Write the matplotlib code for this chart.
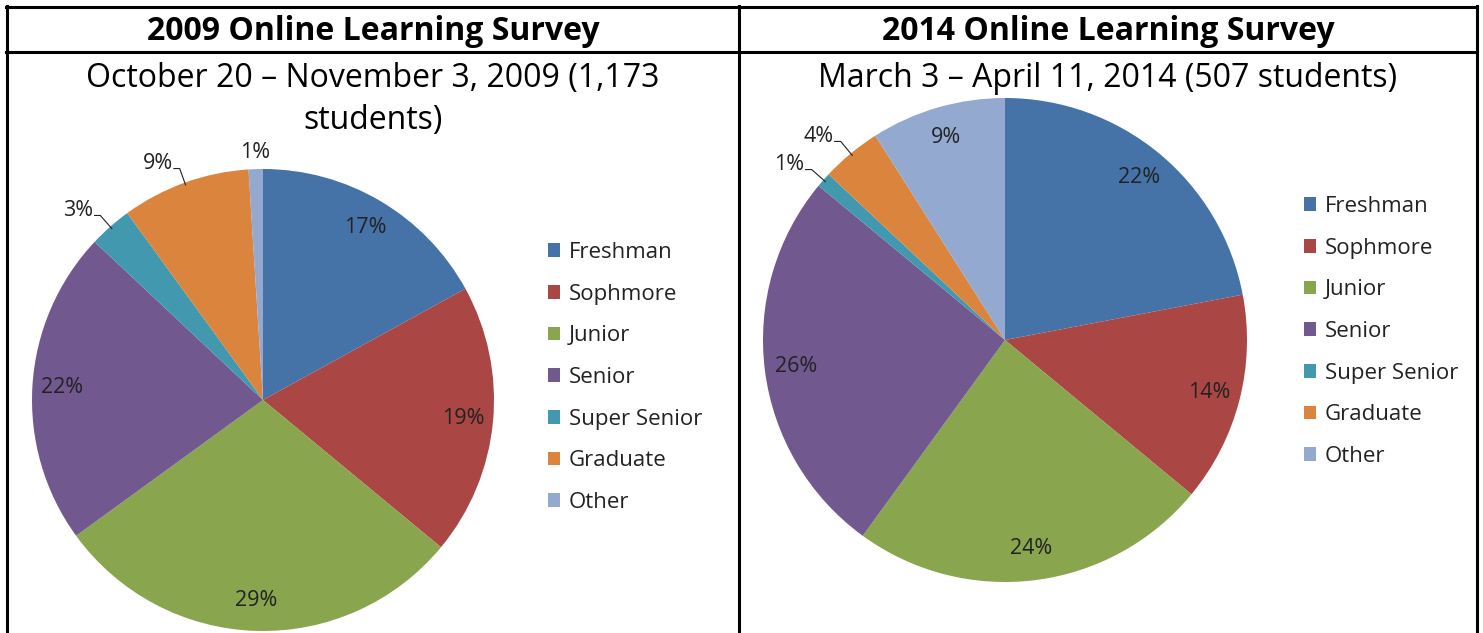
"""Two survey pie charts laid out like a two-column table."""
import matplotlib
matplotlib.use("Agg")
import matplotlib.pyplot as plt
import numpy as np
from matplotlib.lines import Line2D

# ---------------------------------------------------------------------------
# Data
# ---------------------------------------------------------------------------
categories = ["Freshman", "Sophmore", "Junior", "Senior",
              "Super Senior", "Graduate", "Other"]
share_2009 = [17, 19, 29, 22, 3, 9, 1]
share_2014 = [22, 14, 24, 26, 1, 4, 9]

# slices whose label sits outside the pie
outside_2009 = ["Super Senior", "Graduate", "Other"]
outside_2014 = ["Super Senior", "Graduate"]

titles = ["2009 Online Learning Survey", "2014 Online Learning Survey"]
subtitle_2009 = ["October 20 \u2013 November 3, 2009 (1,173", "students)"]
subtitle_2014 = ["March 3 \u2013 April 11, 2014 (507 students)"]

colors = ["#4572A7", "#AA4643", "#89A54E", "#71588F",
          "#4198AF", "#DB843D", "#93A9CF"]

W, H = 1483, 633
plt.rcParams["font.family"] = ["Open Sans", "DejaVu Sans"]
TXT = "#222222"


def fig_xy(x, y):
    """Pixel (from top-left) -> figure fraction."""
    return x / W, 1 - y / H


def hline(fig, x0, x1, y):
    fig.add_artist(Line2D([x0 / W, x1 / W], [1 - y / H] * 2,
                          transform=fig.transFigure, color="black", lw=2.2))


def vline(fig, x, y0, y1):
    fig.add_artist(Line2D([x / W] * 2, [1 - y0 / H, 1 - y1 / H],
                          transform=fig.transFigure, color="black", lw=2.2))


def draw_pie(fig, values, outside, cx, cy, r, legend_xy):
    ax = fig.add_axes([(cx - r) / W, 1 - (cy + r) / H, 2 * r / W, 2 * r / H])
    wedges, _ = ax.pie(values, colors=colors, startangle=90, counterclock=False,
                       radius=1, wedgeprops=dict(linewidth=0))
    ax.set_xlim(-1, 1)
    ax.set_ylim(-1, 1)

    for w, v, name in zip(wedges, values, categories):
        mid = np.deg2rad((w.theta1 + w.theta2) / 2)
        x, y = np.cos(mid), np.sin(mid)
        label = f"{v}%"
        if name not in outside:
            ax.text(0.87 * x, 0.87 * y, label, ha="center", va="center",
                    fontsize=15.5, color=TXT)
        elif abs(x) < 0.15:
            ax.text(1.07 * x, 1.07 * y, label, ha="center", va="center",
                    fontsize=15.5, color=TXT)
        else:
            x1, y1 = 1.065 * x, 1.065 * y
            ax.plot([0.99 * x, x1, x1 - 0.025], [0.99 * y, y1, y1],
                    color=TXT, lw=0.8, clip_on=False)
            ax.text(x1 - 0.03, y1 + 0.022, label, ha="right", va="center",
                    fontsize=15.5, color=TXT)

    lx, ly = fig_xy(*legend_xy)
    ax.legend(wedges, categories, loc="upper left", bbox_to_anchor=(lx, ly),
              bbox_transform=fig.transFigure, frameon=False, fontsize=16,
              handlelength=0.55, handleheight=0.55, handletextpad=0.4,
              labelspacing=0.93, borderpad=0, borderaxespad=0,
              labelcolor=TXT)
    return ax


fig = plt.figure(figsize=(W / 100, H / 100), dpi=100)

# table grid
hline(fig, 6, 1477, 6.5)
hline(fig, 6, 1477, 52)
vline(fig, 7, 6, H)
vline(fig, 739, 6, H)
vline(fig, 1476.5, 6, H)

# headers
for cx, title in zip([373, 1108], titles):
    fig.text(*fig_xy(cx, 31.5), title, ha="center", va="center",
             fontsize=23, fontweight="bold", color="black")

for cx, lines in zip([373, 1108], [subtitle_2009, subtitle_2014]):
    for i, line in enumerate(lines):
        fig.text(*fig_xy(cx, 78.5 + 42 * i), line, ha="center", va="center",
                 fontsize=23, color="black")

draw_pie(fig, share_2009, outside_2009, 263, 400, 231, (548, 242))
draw_pie(fig, share_2014, outside_2014, 1005, 340, 242, (1304, 196))

fig.savefig("out.png", dpi=100)
